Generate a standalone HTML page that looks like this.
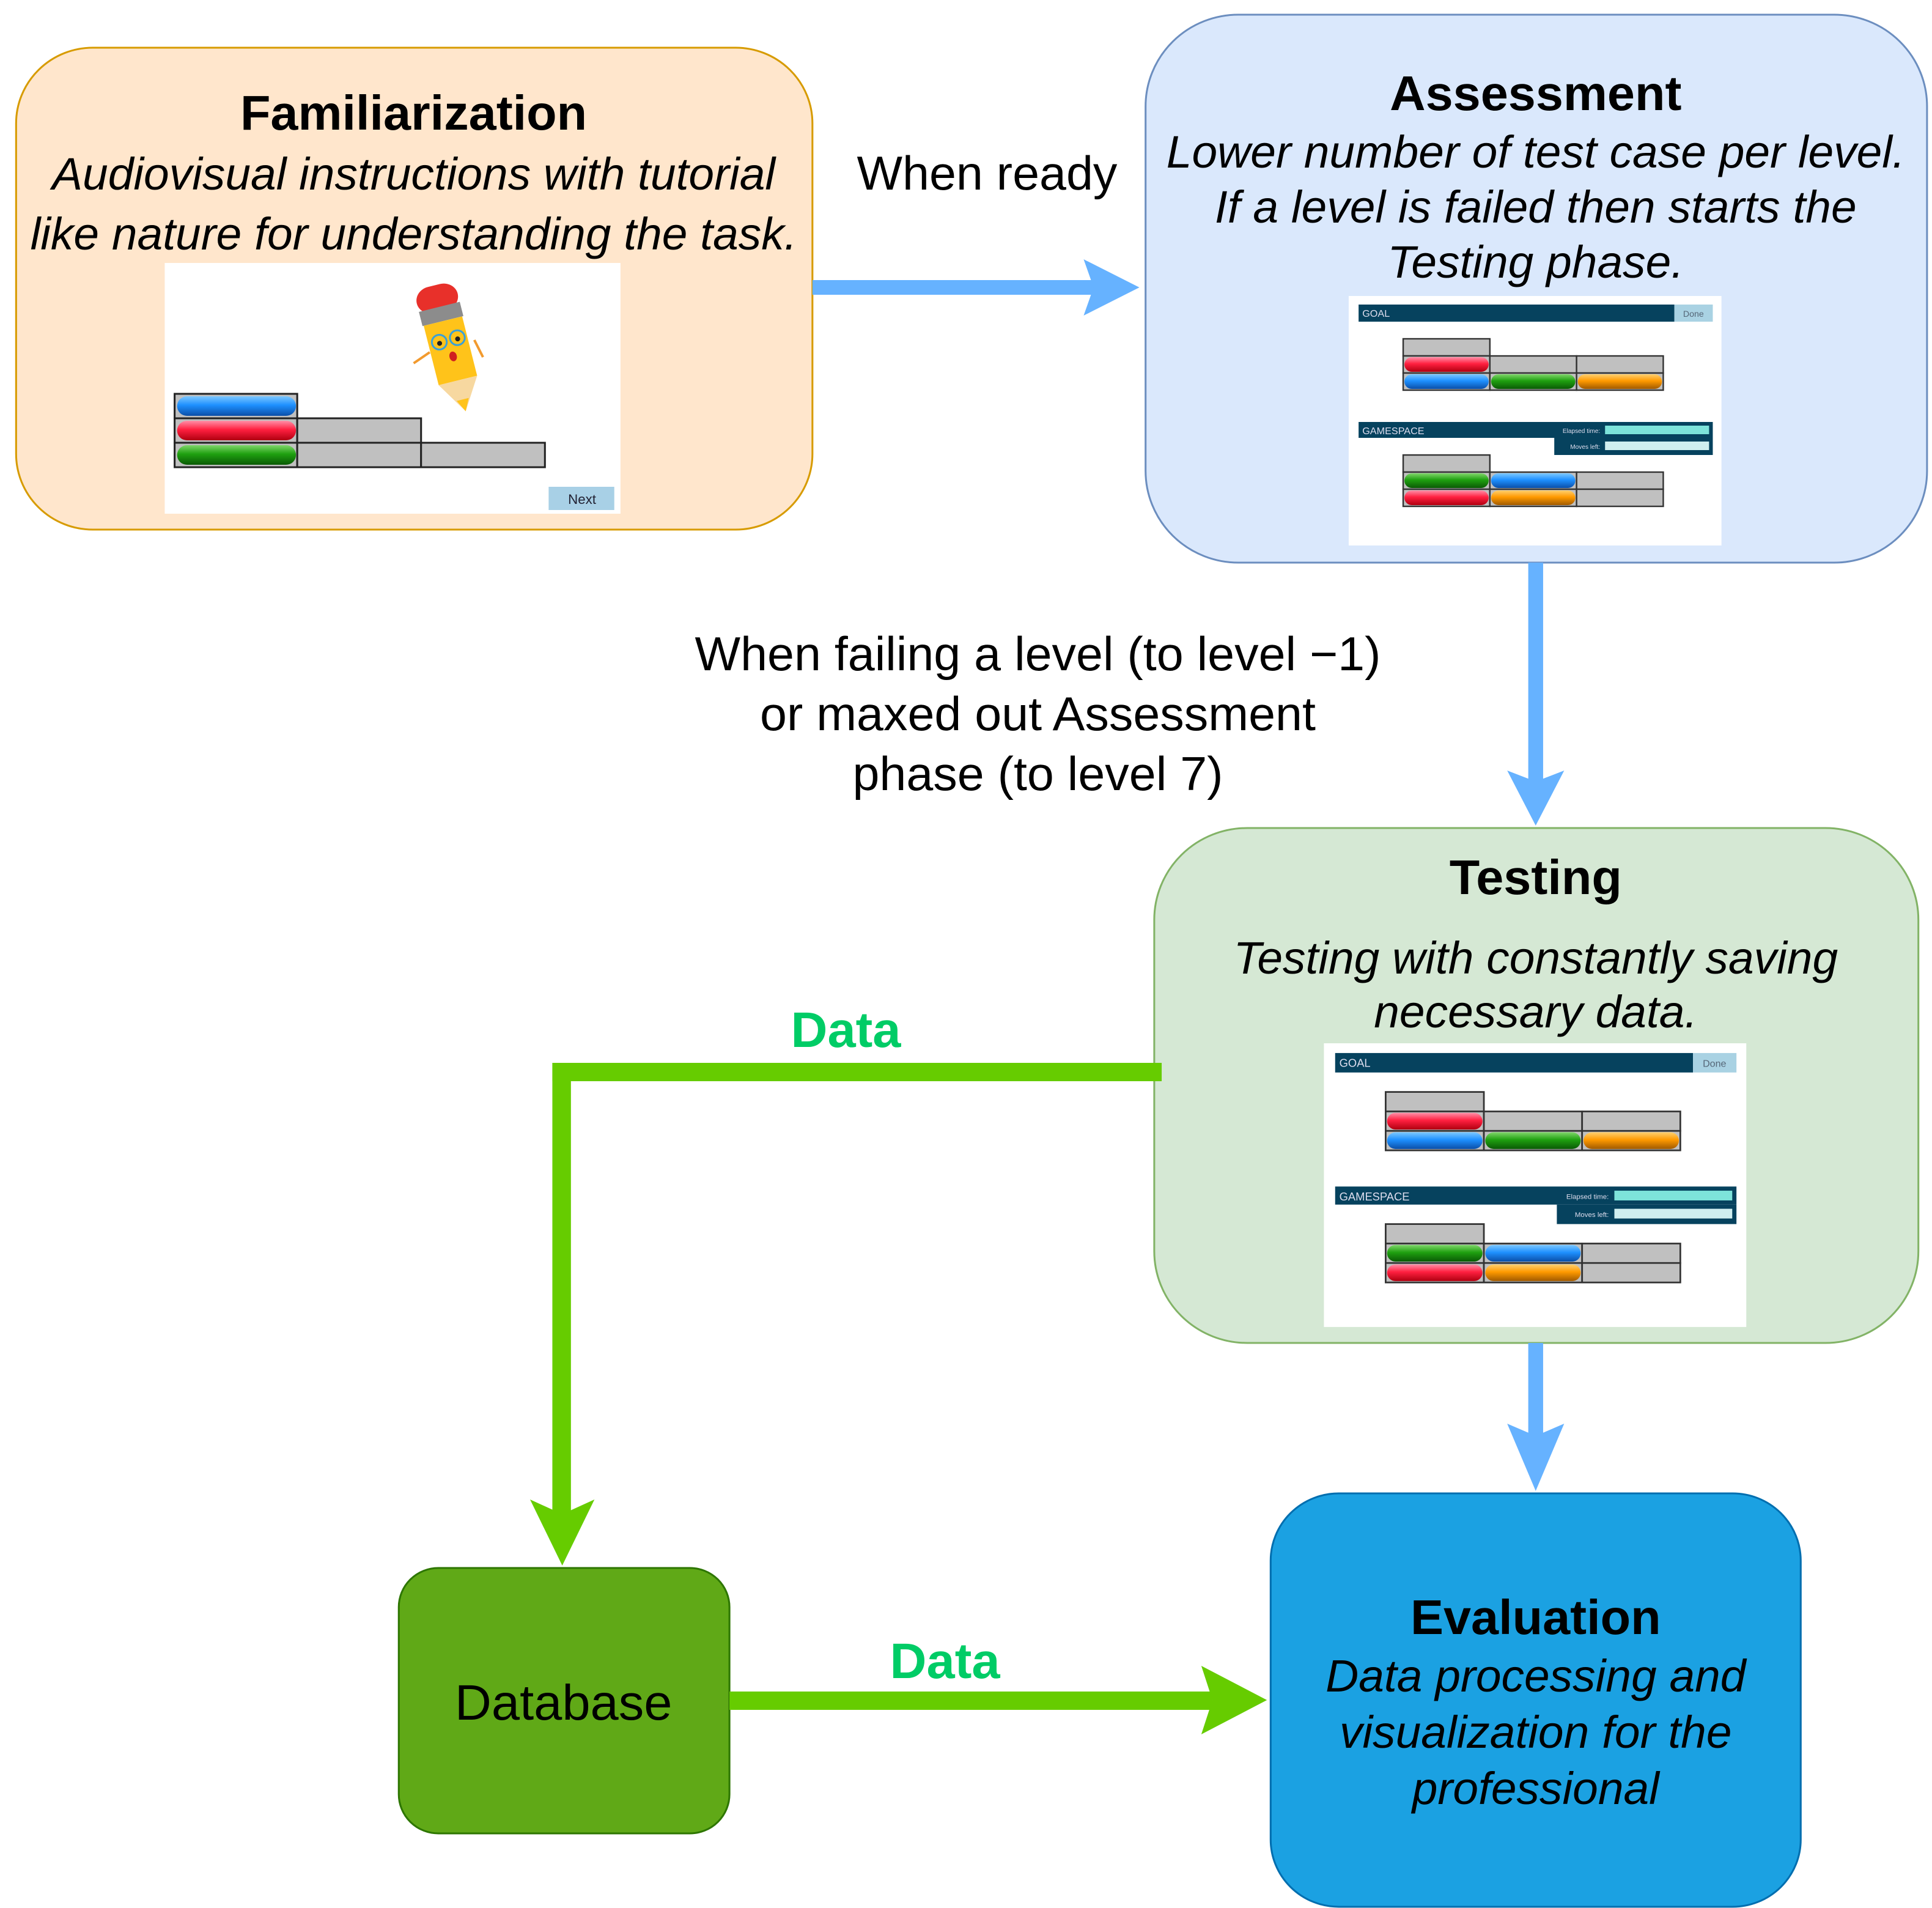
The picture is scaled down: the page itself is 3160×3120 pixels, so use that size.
<!DOCTYPE html>
<html><head><meta charset="utf-8"><style>
html,body{margin:0;padding:0;background:#fff}
svg{display:block}
text{font-family:"Liberation Sans",Arial,sans-serif}
</style></head><body>
<svg width="3160" height="3120" viewBox="0 0 1560 1560" preserveAspectRatio="none" xmlns="http://www.w3.org/2000/svg">
<defs>
<linearGradient id="gb" x1="0" y1="0" x2="0" y2="1"><stop offset="0" stop-color="#7cc8ff"/><stop offset="0.45" stop-color="#1e90ff"/><stop offset="1" stop-color="#0b4fa8"/></linearGradient>
<linearGradient id="gr" x1="0" y1="0" x2="0" y2="1"><stop offset="0" stop-color="#ff8fa8"/><stop offset="0.45" stop-color="#ff2040"/><stop offset="1" stop-color="#b00010"/></linearGradient>
<linearGradient id="gg" x1="0" y1="0" x2="0" y2="1"><stop offset="0" stop-color="#7fd66a"/><stop offset="0.45" stop-color="#1fa010"/><stop offset="1" stop-color="#0a5a05"/></linearGradient>
<linearGradient id="go" x1="0" y1="0" x2="0" y2="1"><stop offset="0" stop-color="#ffd070"/><stop offset="0.45" stop-color="#ff9a00"/><stop offset="1" stop-color="#a05a00"/></linearGradient>
<g id="shot">
  <rect x="0" y="0" width="301" height="204" fill="#fff"/>
  <rect x="8" y="7" width="255" height="14" fill="#06425e"/>
  <rect x="263" y="7" width="31" height="14" fill="#a9d2e3"/>
  <text x="11" y="17" font-family="Liberation Serif,serif" font-size="8" fill="#dde">GOAL</text>
  <text x="270" y="17" font-family="Liberation Serif,serif" font-size="7" fill="#567">Done</text>
  <g stroke="#333" stroke-width="1.2">
    <rect x="44" y="35" width="70" height="14" fill="#c0c0c0"/>
    <rect x="44" y="49" width="70" height="14" fill="#c0c0c0"/>
    <rect x="114" y="49" width="70" height="14" fill="#c0c0c0"/>
    <rect x="184" y="49" width="70" height="14" fill="#c0c0c0"/>
    <rect x="44" y="63" width="70" height="14" fill="#c0c0c0"/>
    <rect x="114" y="63" width="70" height="14" fill="#c0c0c0"/>
    <rect x="184" y="63" width="70" height="14" fill="#c0c0c0"/>
  </g>
  <rect x="45" y="50" width="68" height="12" rx="6" fill="url(#gr)"/>
  <rect x="45" y="64" width="68" height="12" rx="6" fill="url(#gb)"/>
  <rect x="115" y="64" width="68" height="12" rx="6" fill="url(#gg)"/>
  <rect x="185" y="64" width="68" height="12" rx="6" fill="url(#go)"/>
  <rect x="8" y="103" width="286" height="13" fill="#06425e"/>
  <rect x="166" y="116" width="128" height="14" fill="#06425e"/>
  <text x="11" y="113" font-family="Liberation Serif,serif" font-size="8" fill="#dde">GAMESPACE</text>
  <text x="203" y="112" font-family="Liberation Serif,serif" font-size="5" fill="#dde" text-anchor="end">Elapsed time:</text>
  <text x="203" y="125" font-family="Liberation Serif,serif" font-size="5" fill="#dde" text-anchor="end">Moves left:</text>
  <rect x="207" y="106" width="84" height="7" fill="#7de3da"/>
  <rect x="207" y="119" width="84" height="7" fill="#d0eff0"/>
  <g stroke="#333" stroke-width="1.2">
    <rect x="44" y="130" width="70" height="14" fill="#c0c0c0"/>
    <rect x="44" y="144" width="70" height="14" fill="#c0c0c0"/>
    <rect x="114" y="144" width="70" height="14" fill="#c0c0c0"/>
    <rect x="184" y="144" width="70" height="14" fill="#c0c0c0"/>
    <rect x="44" y="158" width="70" height="14" fill="#c0c0c0"/>
    <rect x="114" y="158" width="70" height="14" fill="#c0c0c0"/>
    <rect x="184" y="158" width="70" height="14" fill="#c0c0c0"/>
  </g>
  <rect x="45" y="145" width="68" height="12" rx="6" fill="url(#gg)"/>
  <rect x="115" y="145" width="68" height="12" rx="6" fill="url(#gb)"/>
  <rect x="45" y="159" width="68" height="12" rx="6" fill="url(#gr)"/>
  <rect x="115" y="159" width="68" height="12" rx="6" fill="url(#go)"/>
</g>
</defs>

<!-- Familiarization -->
<rect x="13" y="39" width="643" height="394" rx="62" fill="#ffe6cc" stroke="#d79b00" stroke-width="1.5"/>
<text x="334" y="106" font-size="40" font-weight="bold" text-anchor="middle">Familiarization</text>
<text x="334" y="155" font-size="37" font-style="italic" text-anchor="middle">Audiovisual instructions with tutorial</text>
<text x="334" y="204" font-size="37" font-style="italic" text-anchor="middle">like nature for understanding the task.</text>
<rect x="133" y="215" width="368" height="205" fill="#fff"/>
<g stroke="#222" stroke-width="1.5">
  <rect x="141" y="322" width="99" height="20" fill="#c0c0c0"/>
  <rect x="141" y="342" width="99" height="20" fill="#c0c0c0"/>
  <rect x="240" y="342" width="100" height="20" fill="#c0c0c0"/>
  <rect x="141" y="362" width="99" height="20" fill="#c0c0c0"/>
  <rect x="240" y="362" width="100" height="20" fill="#c0c0c0"/>
  <rect x="340" y="362" width="100" height="20" fill="#c0c0c0"/>
</g>
<rect x="143" y="324" width="96" height="16" rx="8" fill="url(#gb)"/>
<rect x="143" y="344" width="96" height="16" rx="8" fill="url(#gr)"/>
<rect x="143" y="364" width="96" height="16" rx="8" fill="url(#gg)"/>
<rect x="443" y="398" width="53" height="19" fill="#a8d0e6"/>
<text x="470" y="412" font-size="11" text-anchor="middle" fill="#223">Next</text>
<g transform="rotate(-14 362 280)">
  <rect x="345" y="232" width="34" height="22" rx="12" fill="#e8302a"/>
  <rect x="345" y="250" width="34" height="12" fill="#8c8c8c"/>
  <rect x="346" y="262" width="32" height="50" fill="#ffc31a"/>
  <polygon points="346,312 378,312 362,338" fill="#f7d8a0"/>
  <polygon points="357,328 367,328 362,338" fill="#ffc31a"/>
  <circle cx="355" cy="278" r="6" fill="none" stroke="#3aa0d8" stroke-width="1.5"/>
  <circle cx="370" cy="278" r="6" fill="none" stroke="#3aa0d8" stroke-width="1.5"/>
  <circle cx="355" cy="279" r="2" fill="#222"/><circle cx="370" cy="279" r="2" fill="#222"/>
  <ellipse cx="363" cy="292" rx="3" ry="4" fill="#d02020"/>
</g>
<path d="M347 288 L334 297" stroke="#f29a2e" stroke-width="2" fill="none"/>
<path d="M383 278 L390 292" stroke="#f29a2e" stroke-width="2" fill="none"/>

<!-- When ready arrow -->
<rect x="656" y="229" width="235" height="12" fill="#66b2ff"/>
<polygon points="920,235 875,212 883,235 875,258" fill="#66b2ff"/>
<text x="797" y="155" font-size="39" text-anchor="middle">When ready</text>

<!-- Assessment -->
<rect x="925" y="12" width="631" height="448" rx="75" fill="#dae8fc" stroke="#6c8ebf" stroke-width="1.5"/>
<text x="1240" y="90" font-size="40" font-weight="bold" text-anchor="middle">Assessment</text>
<text x="1240" y="137" font-size="37" font-style="italic" text-anchor="middle">Lower number of test case per level.</text>
<text x="1240" y="182" font-size="37" font-style="italic" text-anchor="middle">If a level is failed then starts the</text>
<text x="1240" y="227" font-size="37" font-style="italic" text-anchor="middle">Testing phase.</text>
<use href="#shot" transform="translate(1089 242)"/>

<!-- down arrow to Testing -->
<rect x="1234" y="460" width="12" height="190" fill="#66b2ff"/>
<polygon points="1240,675 1217,630 1240,639 1263,630" fill="#66b2ff"/>
<text x="838" y="548" font-size="39" text-anchor="middle">When failing a level (to level −1)</text>
<text x="838" y="597" font-size="39" text-anchor="middle">or maxed out Assessment</text>
<text x="838" y="646" font-size="39" text-anchor="middle">phase (to level 7)</text>

<!-- Testing -->
<rect x="932" y="677" width="617" height="421" rx="75" fill="#d5e8d4" stroke="#82b366" stroke-width="1.5"/>
<text x="1240" y="731" font-size="40" font-weight="bold" text-anchor="middle">Testing</text>
<text x="1240" y="796" font-size="37" font-style="italic" text-anchor="middle">Testing with constantly saving</text>
<text x="1240" y="840" font-size="37" font-style="italic" text-anchor="middle">necessary data.</text>
<use href="#shot" transform="translate(1069 853) scale(1.133 1.137)"/>

<!-- green data connector -->
<rect x="446" y="869" width="492" height="15" fill="#66cc00"/>
<rect x="446" y="869" width="15" height="370" fill="#66cc00"/>
<polygon points="454,1280 428,1226 454,1238 480,1226" fill="#66cc00"/>
<text x="683" y="856" font-size="41" font-weight="bold" fill="#00cc66" text-anchor="middle">Data</text>

<!-- down arrow to Evaluation -->
<rect x="1234" y="1098" width="12" height="85" fill="#66b2ff"/>
<polygon points="1240,1219 1217,1164 1240,1174 1263,1164" fill="#66b2ff"/>

<!-- Database -->
<rect x="322" y="1282" width="267" height="217" rx="32" fill="#60a917" stroke="#2d7600" stroke-width="1.5"/>
<text x="455" y="1406" font-size="41" text-anchor="middle">Database</text>
<rect x="589" y="1383" width="390" height="15" fill="#66cc00"/>
<polygon points="1023,1390 970,1362 979,1390 970,1418" fill="#66cc00"/>
<text x="763" y="1372" font-size="41" font-weight="bold" fill="#00cc66" text-anchor="middle">Data</text>

<!-- Evaluation -->
<rect x="1026" y="1221" width="428" height="338" rx="55" fill="#1ba1e2" stroke="#006eaf" stroke-width="1.5"/>
<text x="1240" y="1336" font-size="40" font-weight="bold" text-anchor="middle">Evaluation</text>
<text x="1240" y="1383" font-size="37" font-style="italic" text-anchor="middle">Data processing and</text>
<text x="1240" y="1429" font-size="37" font-style="italic" text-anchor="middle">visualization for the</text>
<text x="1240" y="1475" font-size="37" font-style="italic" text-anchor="middle">professional</text>
</svg>
</body></html>
